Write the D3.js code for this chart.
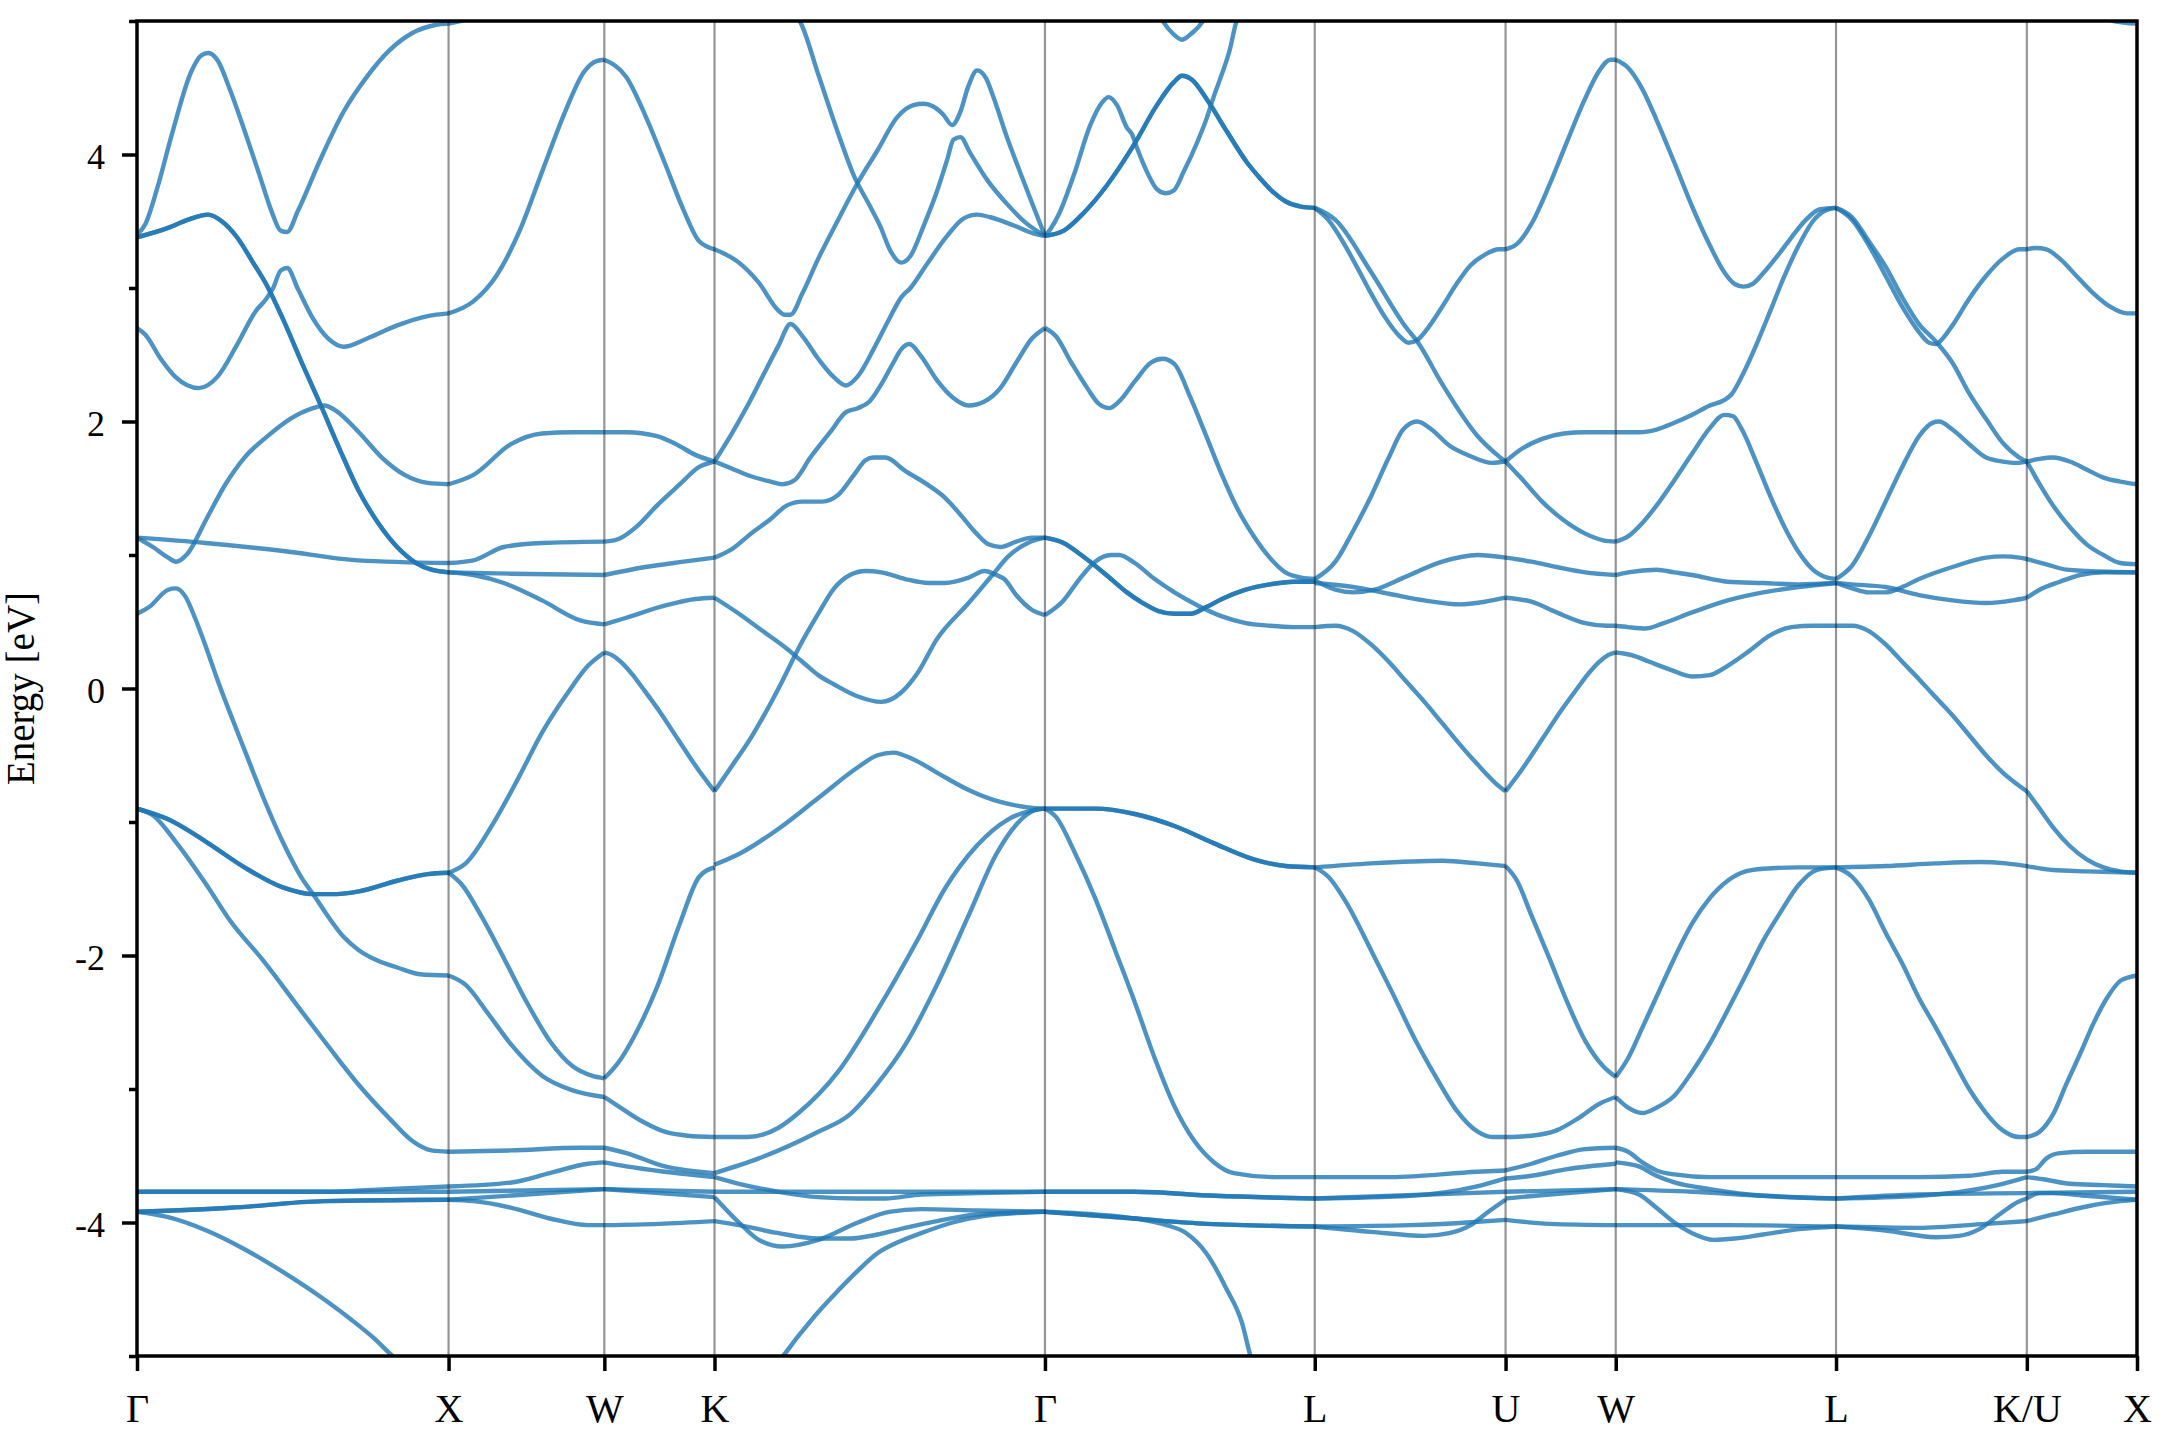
<!DOCTYPE html>
<html>
<head>
<meta charset="utf-8">
<script src="https://cdn.jsdelivr.net/npm/d3@7"></script>
<style>
  html, body { margin: 0; padding: 0; background: #ffffff; }
  svg { display: block; }
</style>
</head>
<body>
<svg id="chart" width="2160" height="1440"></svg>
<script>
// ---------------- DATA ----------------
// high-symmetry points along the FCC path (cumulative k, units of 2pi/a)
const kTicks  = [0, 1, 1.5, 1.8536, 2.9142, 3.7802, 4.3926, 4.7462, 5.4533, 6.0657, 6.4193];
const kLabels = ["Γ", "X", "W", "K", "Γ", "L", "U", "W", "L", "K/U", "X"];
const energyMajorTicks = [-4, -2, 0, 2, 4];
const energyMinorTicks = [-5, -3, -1, 1, 3, 5];
const energyRange = [-5, 5];

// bands per path segment: each curve = list of [fraction along segment, energy eV]
// degenerate bands are listed once per band
const segGX = [
  [[0,3.40],[0.027,3.48],[0.064,3.74],[0.113,4.16],[0.174,4.62],[0.205,4.74],[0.229,4.76],[0.26,4.70],[0.296,4.50],[0.345,4.18],[0.394,3.84],[0.431,3.58],[0.461,3.43],[0.482,3.42],[0.517,3.58],[0.59,3.97],[0.663,4.32],[0.737,4.58],[0.81,4.78],[0.884,4.91],[0.957,4.97],[1,4.98]],
  [[0,3.38],[0.1,3.45],[0.162,3.51],[0.229,3.55],[0.272,3.50],[0.321,3.38],[0.37,3.20],[0.419,3.01],[0.468,2.77],[0.529,2.44],[0.59,2.12],[0.651,1.79],[0.712,1.48],[0.774,1.24],[0.835,1.06],[0.896,0.94],[0.945,0.89],[1,0.87]],
  [[0,3.38],[0.1,3.45],[0.162,3.51],[0.229,3.55],[0.272,3.50],[0.321,3.38],[0.37,3.20],[0.419,3.01],[0.468,2.77],[0.529,2.44],[0.59,2.12],[0.651,1.79],[0.712,1.48],[0.774,1.24],[0.835,1.06],[0.896,0.94],[0.945,0.89],[1,0.87]],
  [[0,2.70],[0.027,2.65],[0.076,2.47],[0.125,2.33],[0.198,2.25],[0.26,2.34],[0.32,2.57],[0.382,2.83],[0.412,2.91],[0.437,3.00],[0.461,3.13],[0.482,3.15],[0.517,2.99],[0.565,2.77],[0.614,2.62],[0.663,2.56],[0.737,2.62],[0.835,2.72],[0.933,2.79],[1,2.81]],
  [[0,1.13],[0.22,1.09],[0.47,1.03],[0.71,0.96],[1,0.94]],
  [[0,1.13],[0.051,1.06],[0.1,0.98],[0.125,0.95],[0.162,1.01],[0.223,1.27],[0.284,1.53],[0.345,1.73],[0.419,1.89],[0.492,2.02],[0.565,2.10],[0.602,2.12],[0.639,2.08],[0.712,1.92],[0.786,1.73],[0.859,1.60],[0.933,1.54],[1,1.53]],
  [[0,0.56],[0.039,0.61],[0.1,0.74],[0.125,0.75],[0.155,0.69],[0.186,0.53],[0.223,0.30],[0.259,0.06],[0.308,-0.24],[0.345,-0.46],[0.406,-0.82],[0.468,-1.15],[0.529,-1.42],[0.565,-1.54],[0.614,-1.71],[0.663,-1.86],[0.712,-1.96],[0.774,-2.04],[0.835,-2.09],[0.908,-2.14],[1,-2.15]],
  [[0,-0.90],[0.1,-0.98],[0.223,-1.15],[0.345,-1.34],[0.468,-1.49],[0.565,-1.54],[0.639,-1.54],[0.712,-1.52],[0.835,-1.44],[0.933,-1.39],[1,-1.38]],
  [[0,-0.90],[0.1,-0.98],[0.223,-1.15],[0.345,-1.34],[0.468,-1.49],[0.565,-1.54],[0.639,-1.54],[0.712,-1.52],[0.835,-1.44],[0.933,-1.39],[1,-1.38]],
  [[0,-0.90],[0.051,-0.95],[0.125,-1.15],[0.223,-1.47],[0.296,-1.73],[0.406,-2.04],[0.529,-2.42],[0.614,-2.68],[0.712,-2.97],[0.81,-3.22],[0.884,-3.39],[0.945,-3.46],[1,-3.47]],
  [[0,-3.77],[0.6,-3.77],[0.8,-3.75],[1,-3.73]],
  [[0,-3.77],[1,-3.77]],
  [[0,-3.92],[0.3,-3.89],[0.6,-3.84],[1,-3.83]],
  [[0,-3.92],[0.3,-3.89],[0.6,-3.84],[1,-3.83]],
  [[0,-3.92],[0.1,-3.96],[0.223,-4.06],[0.345,-4.20],[0.468,-4.37],[0.591,-4.56],[0.689,-4.73],[0.762,-4.87],[0.82,-5.00],[0.86,-5.08]]
];

const segXW = [
  [[0,4.98],[0.15,5.02],[0.3,5.06]],
  [[0,2.81],[0.159,2.90],[0.306,3.09],[0.453,3.42],[0.6,3.87],[0.748,4.32],[0.87,4.62],[0.95,4.70],[1,4.71]],
  [[0,1.53],[0.16,1.60],[0.4,1.83],[0.6,1.91],[0.8,1.92],[1,1.92]],
  [[0,0.94],[0.16,0.96],[0.355,1.06],[0.6,1.09],[1,1.10]],
  [[0,0.87],[0.4,0.86],[1,0.85]],
  [[0,0.87],[0.16,0.85],[0.355,0.79],[0.6,0.66],[0.846,0.51],[1,0.48]],
  [[0,-1.38],[0.11,-1.31],[0.282,-1.02],[0.453,-0.66],[0.6,-0.33],[0.772,-0.02],[0.895,0.17],[1,0.27]],
  [[0,-1.38],[0.086,-1.47],[0.208,-1.70],[0.355,-2.02],[0.502,-2.35],[0.65,-2.64],[0.797,-2.83],[0.919,-2.90],[1,-2.92]],
  [[0,-2.15],[0.11,-2.22],[0.257,-2.44],[0.404,-2.67],[0.6,-2.90],[0.797,-3.01],[1,-3.06]],
  [[0,-3.47],[0.4,-3.46],[0.85,-3.44],[1,-3.44]],
  [[0,-3.73],[0.404,-3.70],[0.65,-3.63],[0.895,-3.56],[1,-3.55]],
  [[0,-3.77],[1,-3.75]],
  [[0,-3.83],[0.16,-3.84],[0.404,-3.89],[0.65,-3.97],[0.895,-4.02],[1,-4.02]],
  [[0,-3.83],[0.5,-3.79],[1,-3.75]]
];

const segWK = [
  [[0,4.71],[0.199,4.58],[0.373,4.29],[0.547,3.94],[0.721,3.58],[0.861,3.35],[1,3.29]],
  [[0,1.92],[0.2,1.92],[0.477,1.89],[0.652,1.83],[0.826,1.75],[1,1.70]],
  [[0,1.10],[0.129,1.12],[0.303,1.22],[0.477,1.37],[0.686,1.53],[0.861,1.66],[1,1.70]],
  [[0,0.85],[0.373,0.91],[0.721,0.95],[1,0.98]],
  [[0,0.48],[0.2,0.53],[0.547,0.62],[0.826,0.67],[1,0.68]],
  [[0,0.27],[0.07,0.25],[0.15,0.20],[0.25,0.11],[0.35,0.0],[0.5,-0.17],[0.668,-0.38],[0.863,-0.62],[1,-0.77]],
  [[0,-2.92],[0.129,-2.80],[0.268,-2.61],[0.477,-2.24],[0.686,-1.76],[0.861,-1.41],[1,-1.34]],
  [[0,-3.06],[0.129,-3.13],[0.338,-3.24],[0.547,-3.32],[0.756,-3.35],[1,-3.36]],
  [[0,-3.44],[0.2,-3.48],[0.55,-3.58],[1,-3.63]],
  [[0,-3.55],[0.2,-3.58],[0.55,-3.62],[1,-3.66]],
  [[0,-3.75],[1,-3.77]],
  [[0,-3.75],[0.5,-3.78],[1,-3.81]],
  [[0,-4.02],[0.5,-4.01],[1,-3.99]]
];

const segKG = [
  [[0,3.29],[0.074,3.19],[0.134,3.04],[0.194,2.83],[0.212,2.80],[0.23,2.80],[0.266,2.96],[0.314,3.22],[0.374,3.51],[0.434,3.79],[0.493,4.03],[0.553,4.28],[0.602,4.37],[0.632,4.38],[0.662,4.36],[0.692,4.30],[0.719,4.22],[0.744,4.32],[0.768,4.51],[0.795,4.63],[0.822,4.57],[0.844,4.43],[0.885,4.13],[0.926,3.86],[0.965,3.61],[1,3.39]],
  [[0.24,5.06],[0.26,4.99],[0.314,4.60],[0.374,4.16],[0.422,3.84],[0.469,3.62],[0.502,3.46],[0.532,3.28],[0.565,3.19],[0.593,3.24],[0.632,3.46],[0.674,3.73],[0.704,3.96],[0.723,4.11],[0.744,4.13],[0.774,4.01],[0.825,3.81],[0.885,3.63],[0.946,3.48],[1,3.39]],
  [[0,1.70],[0.05,1.90],[0.098,2.11],[0.146,2.34],[0.194,2.57],[0.23,2.73],[0.266,2.64],[0.314,2.47],[0.362,2.33],[0.398,2.27],[0.434,2.34],[0.481,2.54],[0.529,2.77],[0.565,2.93],[0.593,3.00],[0.643,3.18],[0.704,3.39],[0.753,3.52],[0.795,3.55],[0.835,3.53],[0.904,3.47],[0.964,3.41],[1,3.39]],
  [[0,1.70],[0.05,1.65],[0.11,1.59],[0.17,1.55],[0.206,1.53],[0.242,1.56],[0.29,1.73],[0.35,1.92],[0.398,2.07],[0.434,2.10],[0.469,2.15],[0.505,2.28],[0.541,2.44],[0.565,2.54],[0.589,2.58],[0.625,2.49],[0.673,2.31],[0.721,2.18],[0.769,2.12],[0.817,2.15],[0.865,2.25],[0.913,2.44],[0.96,2.62],[1,2.70]],
  [[0,0.98],[0.05,1.04],[0.11,1.16],[0.17,1.27],[0.218,1.37],[0.266,1.40],[0.326,1.40],[0.374,1.45],[0.422,1.60],[0.457,1.71],[0.481,1.73],[0.517,1.73],[0.577,1.63],[0.649,1.52],[0.697,1.43],[0.745,1.30],[0.793,1.16],[0.829,1.08],[0.865,1.06],[0.913,1.10],[0.96,1.13],[1,1.13]],
  [[0,0.68],[0.074,0.56],[0.146,0.43],[0.218,0.30],[0.266,0.20],[0.314,0.10],[0.362,0.03],[0.434,-0.06],[0.505,-0.10],[0.565,-0.03],[0.613,0.11],[0.673,0.37],[0.769,0.64],[0.841,0.85],[0.889,0.99],[0.948,1.09],[1,1.13]],
  [[0,-0.77],[0.05,-0.59],[0.11,-0.37],[0.17,-0.11],[0.206,0.06],[0.254,0.30],[0.314,0.56],[0.362,0.75],[0.41,0.85],[0.457,0.88],[0.505,0.87],[0.577,0.82],[0.649,0.79],[0.697,0.79],[0.769,0.83],[0.817,0.88],[0.853,0.85],[0.877,0.82],[0.913,0.70],[0.96,0.59],[1,0.55]],
  [[0,-1.32],[0.074,-1.24],[0.194,-1.05],[0.314,-0.82],[0.434,-0.59],[0.493,-0.50],[0.541,-0.48],[0.601,-0.53],[0.673,-0.63],[0.769,-0.76],[0.865,-0.85],[0.948,-0.89],[1,-0.90]],
  [[0,-3.36],[0.1,-3.36],[0.194,-3.29],[0.254,-3.18],[0.374,-2.87],[0.493,-2.41],[0.613,-1.89],[0.697,-1.50],[0.793,-1.18],[0.889,-0.98],[0.95,-0.92],[1,-0.90]],
  [[0,-3.63],[0.134,-3.52],[0.314,-3.32],[0.41,-3.19],[0.493,-2.96],[0.577,-2.67],[0.673,-2.22],[0.769,-1.70],[0.853,-1.24],[0.913,-1.02],[0.972,-0.91],[1,-0.90]],
  [[0,-3.66],[0.074,-3.71],[0.194,-3.77],[0.314,-3.81],[0.434,-3.82],[0.517,-3.82],[0.625,-3.79],[0.793,-3.78],[1,-3.77]],
  [[0,-3.77],[0.5,-3.77],[1,-3.77]],
  [[0,-3.81],[0.074,-4.00],[0.134,-4.13],[0.206,-4.18],[0.314,-4.13],[0.434,-4.00],[0.529,-3.92],[0.625,-3.90],[0.793,-3.91],[1,-3.92]],
  [[0,-3.99],[0.074,-4.02],[0.194,-4.08],[0.314,-4.12],[0.41,-4.12],[0.493,-4.09],[0.577,-4.04],[0.673,-3.99],[0.793,-3.94],[1,-3.92]],
  [[0.17,-5.1],[0.194,-5.04],[0.254,-4.85],[0.314,-4.67],[0.374,-4.51],[0.434,-4.36],[0.493,-4.23],[0.553,-4.15],[0.625,-4.08],[0.721,-4.00],[0.817,-3.95],[0.913,-3.93],[1,-3.92]]
];

const segGL = [
  [[0,3.39],[0.02,3.44],[0.051,3.55],[0.106,3.84],[0.168,4.22],[0.212,4.39],[0.236,4.43],[0.267,4.37],[0.304,4.20],[0.323,4.15],[0.341,4.05],[0.378,3.87],[0.415,3.74],[0.446,3.71],[0.477,3.73],[0.514,3.87],[0.564,4.09],[0.601,4.28],[0.625,4.43],[0.65,4.57],[0.687,4.80],[0.706,4.97],[0.72,5.05]],
  [[0,3.39],[0.07,3.43],[0.1375,3.55],[0.23,3.77],[0.329,4.07],[0.415,4.37],[0.477,4.54],[0.508,4.59],[0.545,4.56],[0.601,4.41],[0.675,4.17],[0.749,3.94],[0.798,3.82],[0.845,3.72],[0.891,3.65],[0.949,3.61],[1,3.60]],
  [[0,3.39],[0.07,3.43],[0.1375,3.55],[0.23,3.77],[0.329,4.07],[0.415,4.37],[0.477,4.54],[0.508,4.59],[0.545,4.56],[0.601,4.41],[0.675,4.17],[0.749,3.94],[0.798,3.82],[0.845,3.72],[0.891,3.65],[0.949,3.61],[1,3.60]],
  [[0.42,5.06],[0.44,4.99],[0.477,4.90],[0.508,4.86],[0.545,4.91],[0.582,4.99],[0.60,5.06]],
  [[0,2.70],[0.04,2.64],[0.098,2.44],[0.157,2.25],[0.201,2.13],[0.238,2.10],[0.275,2.15],[0.333,2.30],[0.392,2.44],[0.436,2.47],[0.48,2.43],[0.539,2.18],[0.598,1.89],[0.656,1.60],[0.715,1.34],[0.774,1.14],[0.833,0.98],[0.891,0.87],[0.95,0.83],[1,0.82]],
  [[0,1.13],[0.069,1.09],[0.128,1.01],[0.186,0.92],[0.245,0.82],[0.304,0.72],[0.363,0.64],[0.421,0.58],[0.48,0.56],[0.539,0.56],[0.598,0.61],[0.656,0.67],[0.744,0.74],[0.833,0.78],[0.921,0.80],[1,0.80]],
  [[0,1.13],[0.069,1.09],[0.128,1.01],[0.186,0.92],[0.245,0.82],[0.304,0.72],[0.363,0.64],[0.421,0.58],[0.48,0.56],[0.539,0.56],[0.598,0.61],[0.656,0.67],[0.744,0.74],[0.833,0.78],[0.921,0.80],[1,0.80]],
  [[0,0.55],[0.069,0.66],[0.128,0.82],[0.186,0.95],[0.245,1.00],[0.275,1.00],[0.333,0.94],[0.407,0.82],[0.48,0.72],[0.568,0.62],[0.656,0.54],[0.744,0.49],[0.833,0.47],[0.921,0.46],[1,0.46]],
  [[0,-0.90],[0.186,-0.90],[0.333,-0.94],[0.48,-1.03],[0.627,-1.16],[0.774,-1.28],[0.891,-1.33],[1,-1.34]],
  [[0,-0.90],[0.186,-0.90],[0.333,-0.94],[0.48,-1.03],[0.627,-1.16],[0.774,-1.28],[0.891,-1.33],[1,-1.34]],
  [[0,-0.90],[0.04,-0.96],[0.113,-1.24],[0.186,-1.57],[0.26,-1.96],[0.333,-2.35],[0.407,-2.77],[0.48,-3.13],[0.554,-3.39],[0.627,-3.55],[0.70,-3.63],[0.85,-3.66],[1,-3.66]],
  [[0,-3.77],[0.33,-3.77],[0.63,-3.80],[1,-3.82]],
  [[0,-3.77],[0.33,-3.77],[0.63,-3.80],[1,-3.82]],
  [[0,-3.92],[0.33,-3.97],[0.6,-4.01],[1,-4.03]],
  [[0,-3.92],[0.33,-3.97],[0.6,-4.01],[1,-4.03]],
  [[0,-3.92],[0.186,-3.94],[0.333,-3.97],[0.451,-4.02],[0.524,-4.08],[0.598,-4.23],[0.671,-4.49],[0.73,-4.75],[0.767,-5.04],[0.78,-5.12]]
];

const segLU = [
  [[0,3.60],[0.071,3.51],[0.146,3.35],[0.22,3.16],[0.295,2.96],[0.369,2.78],[0.444,2.64],[0.491,2.59],[0.537,2.61],[0.593,2.70],[0.668,2.86],[0.743,3.03],[0.817,3.17],[0.892,3.25],[0.966,3.29],[1,3.29]],
  [[0,3.60],[0.108,3.51],[0.295,3.12],[0.481,2.70],[0.537,2.60],[0.668,2.28],[0.854,1.89],[0.948,1.76],[1,1.70]],
  [[0,0.82],[0.108,0.95],[0.201,1.18],[0.295,1.44],[0.388,1.73],[0.463,1.94],[0.537,2.00],[0.612,1.94],[0.705,1.82],[0.817,1.74],[0.929,1.69],[1,1.70]],
  [[0,0.81],[0.108,0.74],[0.201,0.72],[0.313,0.74],[0.481,0.84],[0.668,0.95],[0.854,1.00],[1,0.98]],
  [[0,0.79],[0.201,0.76],[0.388,0.71],[0.575,0.66],[0.761,0.63],[0.892,0.65],[1,0.68]],
  [[0,0.46],[0.108,0.47],[0.201,0.43],[0.295,0.33],[0.388,0.20],[0.481,0.05],[0.575,-0.10],[0.668,-0.26],[0.761,-0.42],[0.854,-0.57],[0.948,-0.71],[1,-0.77]],
  [[0,-1.34],[0.295,-1.31],[0.668,-1.29],[0.854,-1.31],[1,-1.33]],
  [[0,-1.34],[0.071,-1.41],[0.164,-1.60],[0.295,-1.96],[0.407,-2.28],[0.519,-2.61],[0.631,-2.90],[0.743,-3.16],[0.854,-3.32],[0.929,-3.36],[1,-3.36]],
  [[0,-3.66],[0.4,-3.66],[0.85,-3.62],[1,-3.61]],
  [[0,-3.82],[0.5,-3.80],[0.85,-3.73],[1,-3.67]],
  [[0,-3.82],[0.6,-3.79],[1,-3.77]],
  [[0,-4.03],[0.295,-4.07],[0.575,-4.10],[0.705,-4.08],[0.817,-4.02],[0.91,-3.92],[1,-3.83]],
  [[0,-4.03],[0.5,-4.02],[0.8,-4.00],[1,-3.98]]
];

const segUW = [
  [[0,3.29],[0.104,3.33],[0.235,3.48],[0.397,3.77],[0.56,4.10],[0.723,4.42],[0.853,4.63],[0.951,4.71],[1,4.71]],
  [[0,1.70],[0.137,1.79],[0.332,1.87],[0.528,1.91],[0.723,1.92],[1,1.92]],
  [[0,1.70],[0.137,1.58],[0.332,1.40],[0.528,1.26],[0.723,1.16],[0.886,1.11],[1,1.10]],
  [[0,0.98],[0.235,0.95],[0.463,0.91],[0.723,0.87],[1,0.85]],
  [[0,0.68],[0.235,0.65],[0.463,0.57],[0.723,0.49],[0.919,0.47],[1,0.47]],
  [[0,-0.77],[0.137,-0.62],[0.332,-0.38],[0.5,-0.17],[0.65,0.0],[0.75,0.11],[0.85,0.20],[0.93,0.25],[1,0.27]],
  [[0,-1.33],[0.104,-1.44],[0.235,-1.70],[0.397,-2.02],[0.56,-2.35],[0.723,-2.64],[0.886,-2.83],[1,-2.91]],
  [[0,-3.36],[0.235,-3.35],[0.463,-3.31],[0.658,-3.22],[0.853,-3.11],[1,-3.06]],
  [[0,-3.61],[0.235,-3.56],[0.463,-3.50],[0.723,-3.45],[1,-3.44]],
  [[0,-3.67],[0.235,-3.65],[0.56,-3.60],[1,-3.56]],
  [[0,-3.77],[1,-3.75]],
  [[0,-3.82],[0.4,-3.79],[1,-3.75]],
  [[0,-3.98],[0.4,-4.01],[1,-4.02]]
];

const segWL = [
  [[0,4.71],[0.056,4.65],[0.121,4.49],[0.185,4.26],[0.266,3.94],[0.347,3.61],[0.427,3.32],[0.492,3.12],[0.54,3.03],[0.581,3.01],[0.621,3.03],[0.669,3.11],[0.734,3.24],[0.798,3.38],[0.863,3.51],[0.927,3.59],[1,3.60]],
  [[0,1.92],[0.105,1.92],[0.185,1.94],[0.266,1.99],[0.347,2.05],[0.427,2.12],[0.492,2.16],[0.524,2.20],[0.573,2.34],[0.637,2.57],[0.702,2.83],[0.766,3.09],[0.831,3.32],[0.895,3.50],[0.952,3.58],[1,3.60]],
  [[0,1.10],[0.056,1.14],[0.121,1.24],[0.185,1.37],[0.266,1.56],[0.347,1.76],[0.427,1.95],[0.492,2.05],[0.532,2.04],[0.573,1.94],[0.637,1.70],[0.702,1.44],[0.766,1.21],[0.831,1.02],[0.895,0.89],[0.96,0.83],[1,0.82]],
  [[0,0.85],[0.056,0.87],[0.185,0.89],[0.266,0.87],[0.347,0.85],[0.508,0.80],[0.669,0.79],[0.831,0.78],[1,0.79]],
  [[0,0.47],[0.056,0.46],[0.137,0.45],[0.218,0.49],[0.347,0.57],[0.508,0.66],[0.669,0.72],[0.831,0.76],[1,0.79]],
  [[0,0.27],[0.073,0.25],[0.153,0.20],[0.25,0.14],[0.347,0.09],[0.427,0.10],[0.508,0.17],[0.605,0.28],[0.702,0.40],[0.798,0.46],[0.895,0.47],[1,0.47]],
  [[0,-2.91],[0.056,-2.77],[0.121,-2.54],[0.185,-2.31],[0.266,-2.02],[0.347,-1.76],[0.427,-1.57],[0.508,-1.44],[0.589,-1.37],[0.669,-1.35],[0.831,-1.34],[1,-1.34]],
  [[0,-3.06],[0.056,-3.14],[0.121,-3.18],[0.185,-3.14],[0.266,-3.05],[0.347,-2.87],[0.427,-2.66],[0.508,-2.41],[0.589,-2.15],[0.669,-1.89],[0.75,-1.67],[0.831,-1.47],[0.911,-1.36],[1,-1.34]],
  [[0,-3.44],[0.056,-3.47],[0.121,-3.55],[0.185,-3.61],[0.266,-3.64],[0.427,-3.66],[1,-3.66]],
  [[0,-3.55],[0.105,-3.58],[0.185,-3.65],[0.266,-3.70],[0.427,-3.75],[0.669,-3.80],[1,-3.82]],
  [[0,-3.75],[0.347,-3.77],[0.669,-3.80],[1,-3.82]],
  [[0,-3.75],[0.105,-3.79],[0.185,-3.89],[0.266,-4.00],[0.347,-4.08],[0.444,-4.13],[0.54,-4.12],[0.669,-4.09],[0.831,-4.05],[1,-4.03]],
  [[0,-4.02],[0.5,-4.02],[1,-4.03]]
];

const segLK = [
  [[0,3.60],[0.084,3.51],[0.172,3.32],[0.26,3.09],[0.347,2.86],[0.435,2.67],[0.488,2.59],[0.523,2.58],[0.558,2.62],[0.61,2.72],[0.698,2.92],[0.786,3.09],[0.874,3.22],[0.961,3.29],[1,3.29]],
  [[0,3.60],[0.084,3.53],[0.172,3.35],[0.26,3.16],[0.347,2.93],[0.435,2.73],[0.523,2.60],[0.61,2.44],[0.698,2.21],[0.786,2.02],[0.874,1.84],[0.961,1.73],[1,1.70]],
  [[0,0.82],[0.084,0.92],[0.172,1.14],[0.26,1.40],[0.347,1.66],[0.435,1.89],[0.505,1.99],[0.54,2.00],[0.61,1.94],[0.698,1.83],[0.786,1.73],[0.874,1.70],[0.944,1.69],[1,1.70]],
  [[0,0.79],[0.084,0.75],[0.172,0.72],[0.26,0.72],[0.347,0.76],[0.435,0.82],[0.61,0.91],[0.786,0.98],[0.874,0.99],[0.961,0.98],[1,0.97]],
  [[0,0.79],[0.084,0.78],[0.26,0.76],[0.435,0.70],[0.61,0.66],[0.786,0.64],[0.926,0.66],[1,0.68]],
  [[0,0.47],[0.084,0.47],[0.172,0.43],[0.26,0.33],[0.347,0.20],[0.435,0.07],[0.505,-0.04],[0.61,-0.20],[0.698,-0.35],[0.786,-0.50],[0.874,-0.63],[0.961,-0.73],[1,-0.77]],
  [[0,-1.34],[0.26,-1.33],[0.523,-1.31],[0.751,-1.30],[0.891,-1.31],[1,-1.33]],
  [[0,-1.34],[0.084,-1.41],[0.172,-1.58],[0.26,-1.83],[0.347,-2.06],[0.435,-2.32],[0.523,-2.54],[0.61,-2.77],[0.698,-3.00],[0.786,-3.18],[0.874,-3.31],[0.961,-3.36],[1,-3.36]],
  [[0,-3.66],[0.435,-3.66],[0.698,-3.65],[0.874,-3.62],[1,-3.62]],
  [[0,-3.82],[0.435,-3.80],[0.698,-3.76],[0.874,-3.71],[1,-3.66]],
  [[0,-3.82],[0.435,-3.79],[1,-3.78]],
  [[0,-4.03],[0.26,-4.06],[0.523,-4.11],[0.645,-4.10],[0.751,-4.05],[0.856,-3.94],[0.961,-3.84],[1,-3.82]],
  [[0,-4.03],[0.435,-4.04],[0.786,-4.01],[1,-3.99]]
];

const segKX = [
  [[0,3.29],[0.085,3.30],[0.177,3.29],[0.299,3.22],[0.451,3.09],[0.604,2.96],[0.756,2.86],[0.909,2.81],[1,2.81]],
  [[0,1.70],[0.116,1.53],[0.238,1.37],[0.39,1.21],[0.543,1.08],[0.695,1.00],[0.848,0.94],[1,0.93]],
  [[0,1.70],[0.116,1.72],[0.238,1.73],[0.39,1.70],[0.543,1.64],[0.695,1.58],[0.848,1.55],[1,1.53]],
  [[0,0.97],[0.177,0.93],[0.36,0.89],[0.543,0.88],[1,0.87]],
  [[0,0.68],[0.116,0.74],[0.299,0.80],[0.482,0.85],[0.695,0.87],[1,0.87]],
  [[0.70,5.04],[0.787,5.00],[1,4.98]],
  [[0,-0.77],[0.116,-0.90],[0.238,-1.04],[0.39,-1.18],[0.543,-1.28],[0.695,-1.34],[0.848,-1.37],[1,-1.38]],
  [[0,-1.33],[0.238,-1.36],[0.543,-1.37],[1,-1.38]],
  [[0,-3.36],[0.116,-3.32],[0.238,-3.19],[0.36,-2.96],[0.482,-2.74],[0.604,-2.51],[0.726,-2.32],[0.848,-2.19],[0.939,-2.16],[1,-2.15]],
  [[0,-3.62],[0.085,-3.60],[0.177,-3.52],[0.299,-3.48],[0.543,-3.47],[1,-3.47]],
  [[0,-3.66],[0.177,-3.68],[0.39,-3.71],[0.695,-3.72],[1,-3.73]],
  [[0,-3.78],[1,-3.77]],
  [[0,-3.82],[0.116,-3.78],[0.238,-3.78],[0.543,-3.80],[1,-3.83]],
  [[0,-3.99],[0.238,-3.94],[0.543,-3.88],[0.848,-3.84],[1,-3.83]]
];

const pathSegments = [segGX, segXW, segWK, segKG, segGL, segLU, segUW, segWL, segLK, segKX];

// ---------------- DRAWING ----------------
const svg = d3.select("#chart");
const plot = { left: 137, right: 2137, top: 21, bottom: 1356 };
const FONT = "'Liberation Serif', 'Times New Roman', Times, serif";

const x = d3.scaleLinear()
  .domain([kTicks[0], kTicks[kTicks.length - 1]])
  .range([plot.left, plot.right]);
const y = d3.scaleLinear()
  .domain(energyRange)
  .range([plot.bottom, plot.top]);

svg.append("defs").append("clipPath").attr("id", "plotClip")
  .append("rect")
  .attr("x", plot.left).attr("y", plot.top)
  .attr("width", plot.right - plot.left).attr("height", plot.bottom - plot.top);

const line = d3.line()
  .x(d => x(d[0]))
  .y(d => y(d[1]))
  .curve(d3.curveMonotoneX);

const bandsG = svg.append("g").attr("clip-path", "url(#plotClip)");

pathSegments.forEach((seg, i) => {
  const k0 = kTicks[i], k1 = kTicks[i + 1];
  seg.forEach(curve => {
    const pts = curve.map(([t, e]) => [k0 + t * (k1 - k0), e]);
    bandsG.append("path")
      .attr("d", line(pts))
      .attr("fill", "none")
      .attr("stroke", "#1f77b4")
      .attr("stroke-opacity", 0.8)
      .attr("stroke-width", 4.4)
      .attr("stroke-linejoin", "round")
      .attr("stroke-linecap", "butt");
  });
});

// vertical lines at high-symmetry points
svg.append("g").selectAll("line")
  .data(kTicks.slice(1, -1))
  .join("line")
  .attr("x1", d => x(d)).attr("x2", d => x(d))
  .attr("y1", plot.top).attr("y2", plot.bottom)
  .attr("stroke", "#000")
  .attr("stroke-opacity", 0.42)
  .attr("stroke-width", 2.2);

// y axis (major + minor)
const yAxisG = svg.append("g")
  .attr("transform", `translate(${plot.left},0)`)
  .call(d3.axisLeft(y).tickValues(energyMajorTicks).tickSize(15).tickPadding(17)
    .tickFormat(d => String(d)));
yAxisG.select(".domain").remove();
yAxisG.selectAll(".tick line").attr("stroke", "#000").attr("stroke-width", 3.5);
yAxisG.selectAll(".tick text")
  .attr("font-family", FONT).attr("font-size", 36).attr("fill", "#000")
  .attr("dy", "0.40em");

const yMinorG = svg.append("g")
  .attr("transform", `translate(${plot.left},0)`)
  .call(d3.axisLeft(y).tickValues(energyMinorTicks).tickSize(8).tickFormat(""));
yMinorG.select(".domain").remove();
yMinorG.selectAll(".tick line").attr("stroke", "#000").attr("stroke-width", 3.5);

// x axis
const xAxisG = svg.append("g")
  .attr("transform", `translate(0,${plot.bottom})`)
  .call(d3.axisBottom(x).tickValues(kTicks).tickSize(15).tickFormat((d, i) => kLabels[i]));
xAxisG.select(".domain").remove();
xAxisG.selectAll(".tick line").attr("stroke", "#000").attr("stroke-width", 3.5);
xAxisG.selectAll(".tick text")
  .attr("font-family", FONT).attr("font-size", 40).attr("fill", "#000")
  .attr("y", 66).attr("dy", 0);

// frame
svg.append("rect")
  .attr("x", plot.left).attr("y", plot.top)
  .attr("width", plot.right - plot.left).attr("height", plot.bottom - plot.top)
  .attr("fill", "none").attr("stroke", "#000").attr("stroke-width", 3.5);

// y label
svg.append("text")
  .attr("transform", `translate(34,${(plot.top + plot.bottom) / 2}) rotate(-90)`)
  .attr("text-anchor", "middle")
  .attr("font-family", FONT).attr("font-size", 39).attr("fill", "#000")
  .text("Energy [eV]");
</script>
</body>
</html>
